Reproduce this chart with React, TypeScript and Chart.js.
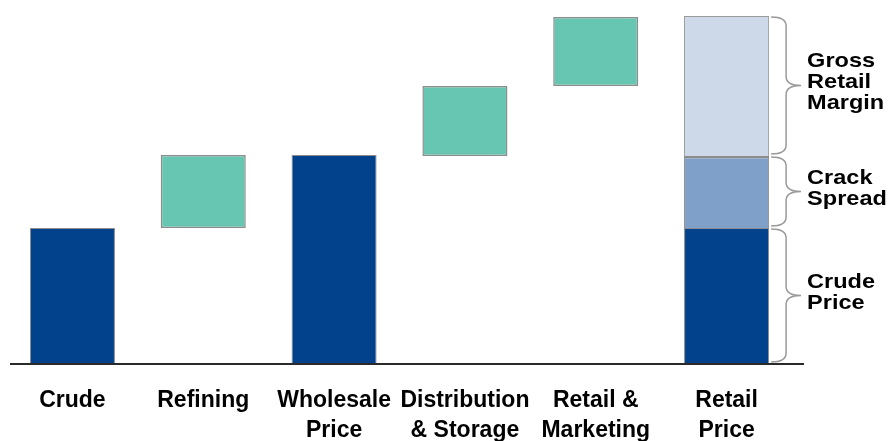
import React, { useEffect, useRef } from "react";
import { Chart, registerables } from "chart.js";

Chart.register(...registerables);

// Gasoline price build-up ($/gal)
const categories: string[][] = [
  ["Crude"],
  ["Refining"],
  ["Wholesale", "Price"],
  ["Distribution", "& Storage"],
  ["Retail &", "Marketing"],
  ["Retail", "Price"],
];
const solidTotals: (number | null)[] = [1.36, null, 2.09, null, null, 1.36];
const stepCosts: ([number, number] | null)[] = [null, [1.36, 2.09], null, [2.08, 2.78], [2.78, 3.47], null];
const crackSpread: ([number, number] | null)[] = [null, null, null, null, null, [1.36, 2.08]];
const grossMargin: ([number, number] | null)[] = [null, null, null, null, null, [2.08, 3.48]];
const componentLabels: string[][] = [["Gross", "Retail", "Margin"], ["Crack", "Spread"], ["Crude", "Price"]];

const DARK = "#02418c";
const GREEN = "#67c6b1";
const CRACK = "#7fa0c8";
const GROSS = "#cdd9e8";
const EDGE = "#8c8c8c";

const overlay = {
  id: "overlay",
  afterDatasetsDraw(chart: any) {
    const ctx: CanvasRenderingContext2D = chart.ctx;
    const ys = chart.scales.y;
    const area = chart.chartArea;
    const base = ys.getPixelForValue(0);
    ctx.save();
    // baseline
    ctx.strokeStyle = "#2a2a2a";
    ctx.lineWidth = 2;
    ctx.beginPath();
    ctx.moveTo(area.left + 3, base);
    ctx.lineTo(area.right + 12, base);
    ctx.stroke();

    const idx = categories.length - 1;
    const bar: any = chart.getDatasetMeta(0).data[idx];
    const right = bar.x + bar.width / 2;
    const segs: [number, number][] = [
      grossMargin[idx] as [number, number],
      crackSpread[idx] as [number, number],
      [0, solidTotals[idx] as number],
    ];
    const x0 = right + 2;
    const xm = right + 17;
    const xt = right + 32;
    segs.forEach((s, i) => {
      const y0 = ys.getPixelForValue(s[1]) + 1;
      const y1 = ys.getPixelForValue(s[0]) - 2;
      const ym = (y0 + y1) / 2;
      const r = Math.min(9, (y1 - y0) / 4);
      ctx.strokeStyle = "#9a9a9a";
      ctx.lineWidth = 1.5;
      ctx.beginPath();
      ctx.moveTo(x0, y0);
      ctx.quadraticCurveTo(xm, y0, xm, y0 + r);
      ctx.lineTo(xm, ym - r);
      ctx.quadraticCurveTo(xm, ym, xt, ym);
      ctx.quadraticCurveTo(xm, ym, xm, ym + r);
      ctx.lineTo(xm, y1 - r);
      ctx.quadraticCurveTo(xm, y1, x0, y1);
      ctx.stroke();

      const lines = componentLabels[i];
      const lh = 21;
      const cy = ym - 3 - ((lines.length - 1) * lh) / 2;
      ctx.fillStyle = "#000";
      ctx.font = 'bold 21px "Liberation Sans", Arial, sans-serif';
      ctx.textAlign = "left";
      ctx.textBaseline = "middle";
      lines.forEach((t, j) => {
        ctx.save();
        ctx.translate(right + 38, cy + j * lh);
        ctx.scale(1.12, 1);
        ctx.fillText(t, 0, 0);
        ctx.restore();
      });
    });
    ctx.restore();
  },
};

export default function App() {
  const ref = useRef<HTMLCanvasElement | null>(null);
  useEffect(() => {
    if (!ref.current) return;
    const common = {
      grouped: false,
      barPercentage: 0.65,
      categoryPercentage: 1,
      borderSkipped: false as const,
    };
    const chart = new Chart(ref.current, {
      type: "bar",
      data: {
        labels: categories,
        datasets: [
          { ...common, label: "Price", data: solidTotals as any, backgroundColor: DARK, borderColor: EDGE, borderWidth: 1 },
          { ...common, label: "Step cost", data: stepCosts as any, backgroundColor: GREEN, borderColor: EDGE, borderWidth: 1.5 },
          { ...common, label: "Crack Spread", data: crackSpread as any, backgroundColor: CRACK, borderColor: EDGE, borderWidth: { top: 2.5, left: 1, right: 1, bottom: 0 } as any },
          { ...common, label: "Gross Retail Margin", data: grossMargin as any, backgroundColor: GROSS, borderColor: "#9a9a9a", borderWidth: { top: 1, left: 1, right: 1, bottom: 0 } as any },
        ],
      },
      options: {
        responsive: false,
        animation: false,
        layout: { padding: { left: 7, right: 101, top: 14, bottom: 0 } },
        plugins: { legend: { display: false }, tooltip: { enabled: false } },
        scales: {
          x: {
            grid: { display: false, drawTicks: false },
            border: { display: false },
            ticks: {
              autoSkip: false,
              maxRotation: 0,
              minRotation: 0,
              padding: 22,
              color: "#000",
              font: { family: '"Liberation Sans", Arial, sans-serif', size: 23, weight: "bold", lineHeight: "30px" as any },
            },
            afterFit: (scale: any) => {
              scale.height = 77;
            },
          },
          y: { display: false, min: 0, max: 3.5 },
        },
      },
      plugins: [overlay],
    });
    return () => chart.destroy();
  }, []);
  return (
    <div style={{ position: "absolute", left: 0, top: 0, width: 893, height: 441, background: "#fff" }}>
      <canvas ref={ref} width={893} height={441} style={{ display: "block" }} />
    </div>
  );
}
